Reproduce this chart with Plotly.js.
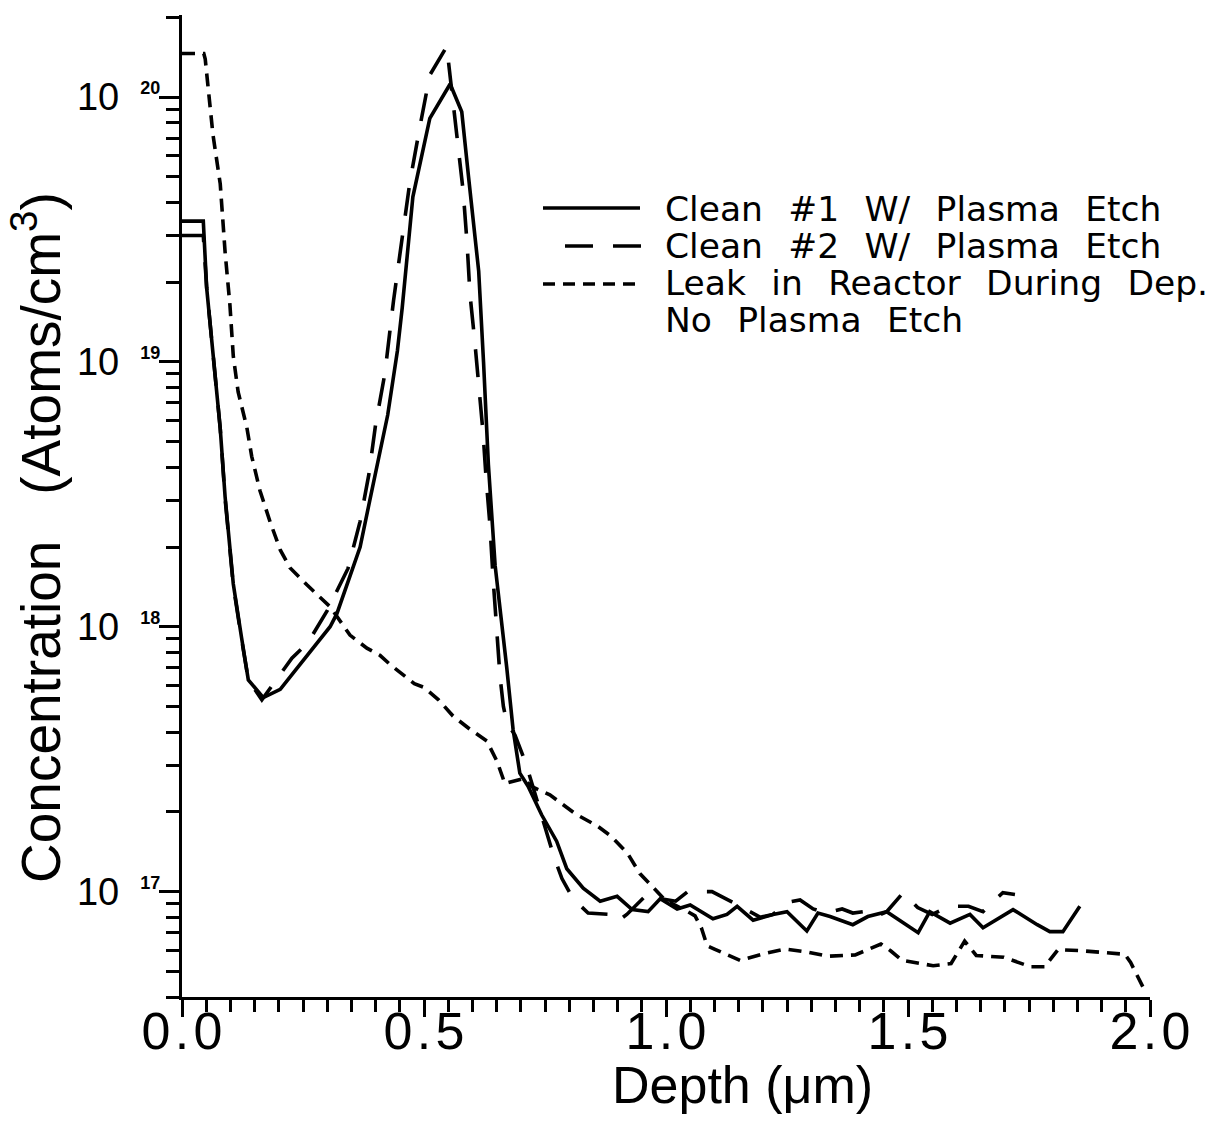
<!DOCTYPE html>
<html>
<head>
<meta charset="utf-8">
<script src="https://cdn.plot.ly/plotly-3.0.1.min.js"></script>
<style>html,body{margin:0;padding:0;background:#fff;}</style>
</head>
<body>
<div id="chart" style="width:1219px;height:1125px;"></div>
<script>
// Clean #1 W/ Plasma Etch (solid)
const depth1 = [0, 0.044, 0.051, 0.065, 0.079, 0.089, 0.106, 0.123, 0.137, 0.168, 0.203, 0.230, 0.271, 0.306, 0.320, 0.340, 0.368, 0.388, 0.405, 0.425, 0.445, 0.455, 0.477, 0.512, 0.554, 0.578, 0.592, 0.613, 0.623, 0.633, 0.647, 0.657, 0.671, 0.684, 0.698, 0.715, 0.743, 0.774, 0.795, 0.829, 0.864, 0.899, 0.930, 0.963, 0.988, 1.023, 1.050, 1.097, 1.126, 1.147, 1.180, 1.221, 1.250, 1.291, 1.314, 1.339, 1.386, 1.417, 1.456, 1.521, 1.545, 1.587, 1.628, 1.655, 1.717, 1.767, 1.793, 1.820, 1.855];
const conc1 = [3.4e19, 3.4e19, 1.9e19, 1.04e19, 5.6e18, 3.1e18, 1.45e18, 9.1e17, 6.3e17, 5.4e17, 5.8e17, 6.7e17, 8.3e17, 1.0e18, 1.12e18, 1.44e18, 2.0e18, 3.0e18, 4.2e18, 6.3e18, 1.1e19, 1.6e19, 4.2e19, 8.3e19, 1.12e20, 8.8e19, 5.0e19, 2.2e19, 1.0e19, 4.1e18, 1.7e18, 1.2e18, 7.0e17, 4.1e17, 2.8e17, 2.5e17, 1.95e17, 1.55e17, 1.22e17, 1.03e17, 9.2e16, 9.6e16, 8.55e16, 8.4e16, 9.4e16, 8.6e16, 8.9e16, 7.9e16, 8.2e16, 8.8e16, 7.8e16, 8.2e16, 8.4e16, 7.1e16, 8.3e16, 8.05e16, 7.5e16, 8.05e16, 8.4e16, 7.0e16, 8.4e16, 7.6e16, 8.2e16, 7.3e16, 8.55e16, 7.5e16, 7.06e16, 7.06e16, 8.8e16];

// Clean #2 W/ Plasma Etch (long dash)
const depth2 = [0, 0.044, 0.051, 0.065, 0.079, 0.089, 0.106, 0.123, 0.137, 0.165, 0.227, 0.260, 0.300, 0.343, 0.368, 0.386, 0.400, 0.419, 0.437, 0.455, 0.471, 0.492, 0.512, 0.547, 0.570, 0.581, 0.589, 0.595, 0.605, 0.614, 0.622, 0.628, 0.636, 0.643, 0.650, 0.657, 0.664, 0.672, 0.688, 0.709, 0.723, 0.745, 0.767, 0.785, 0.808, 0.839, 0.884, 0.899, 0.919, 0.957, 0.988, 1.020, 1.045, 1.095, 1.138, 1.167, 1.195, 1.221, 1.250, 1.277, 1.304, 1.330, 1.364, 1.386, 1.407, 1.430, 1.456, 1.490, 1.520, 1.550, 1.585, 1.625, 1.655, 1.676, 1.696, 1.721];
const conc2 = [3.0e19, 3.0e19, 1.9e19, 1.04e19, 5.6e18, 3.05e18, 1.43e18, 9.0e17, 6.3e17, 5.3e17, 7.6e17, 8.7e17, 1.15e18, 1.66e18, 2.5e18, 3.75e18, 5.8e18, 9.0e18, 1.7e19, 2.95e19, 4.8e19, 7.8e19, 1.21e20, 1.55e20, 6.9e19, 4.4e19, 2.8e19, 1.8e19, 1.19e19, 7.9e18, 5.4e18, 3.7e18, 2.45e18, 1.5e18, 9.5e17, 6.5e17, 5.0e17, 4.3e17, 3.9e17, 3.1e17, 2.56e17, 1.9e17, 1.38e17, 1.12e17, 9.4e16, 8.3e16, 8.2e16, 7.7e16, 8.2e16, 9.6e16, 9.4e16, 9.2e16, 1.0e17, 1.0e17, 9.1e16, 8.5e16, 8.0e16, 8.2e16, 9.1e16, 9.3e16, 8.6e16, 8.3e16, 8.6e16, 8.3e16, 8.4e16, 8.0e16, 8.4e16, 9.9e16, 8.7e16, 8.2e16, 8.8e16, 8.8e16, 8.4e16, 9.2e16, 9.9e16, 9.75e16];

// Leak in Reactor During Dep. No Plasma Etch (short dash)
const depth3 = [0, 0.045, 0.048, 0.064, 0.079, 0.089, 0.099, 0.106, 0.116, 0.134, 0.144, 0.161, 0.182, 0.203, 0.223, 0.258, 0.306, 0.347, 0.382, 0.409, 0.430, 0.460, 0.480, 0.500, 0.530, 0.560, 0.595, 0.630, 0.651, 0.667, 0.705, 0.723, 0.760, 0.812, 0.860, 0.888, 0.921, 0.946, 0.977, 0.998, 1.040, 1.060, 1.073, 1.085, 1.100, 1.153, 1.198, 1.246, 1.294, 1.335, 1.391, 1.444, 1.464, 1.488, 1.552, 1.589, 1.617, 1.641, 1.698, 1.754, 1.782, 1.810, 1.859, 1.948, 1.960, 1.990];
const conc3 = [1.46e20, 1.46e20, 1.39e20, 7.2e19, 4.7e19, 2.6e19, 1.64e19, 1.05e19, 7.7e18, 5.65e18, 4.4e18, 3.27e18, 2.49e18, 1.95e18, 1.67e18, 1.44e18, 1.19e18, 9.3e17, 8.3e17, 7.8e17, 7.2e17, 6.5e17, 6.1e17, 5.9e17, 5.3e17, 4.6e17, 4.1e17, 3.7e17, 3.1e17, 2.56e17, 2.67e17, 2.49e17, 2.32e17, 1.97e17, 1.76e17, 1.61e17, 1.39e17, 1.17e17, 1.02e17, 9.3e16, 8.5e16, 8.1e16, 7.3e16, 6.25e16, 6.07e16, 5.5e16, 5.8e16, 6.07e16, 5.9e16, 5.7e16, 5.77e16, 6.34e16, 5.98e16, 5.5e16, 5.25e16, 5.35e16, 6.5e16, 5.74e16, 5.65e16, 5.2e16, 5.2e16, 6.04e16, 5.98e16, 5.8e16, 5.4e16, 4.2e16];

const seriesNames = ["Clean #1 W/ Plasma Etch", "Clean #2 W/ Plasma Etch", "Leak in Reactor During Dep.", "No Plasma Etch"];
const xTickVals = [0, 0.5, 1.0, 1.5, 2.0];
const yExponents = [17, 18, 19, 20];
const xTitle = "Depth (\u03bcm)";
const yTitle = "Concentration\u00a0\u00a0 (Atoms/cm<sup>3</sup>)";

const xTickText = xTickVals.map(v => v.toFixed(1).split('').join('\u200a'));
const yTickVals = yExponents.map(e => Math.pow(10, e));
const yTickText = yExponents.map(e => '10\u00a0\u00a0<sup><span style="font-size:18px;font-weight:bold">' + e + '</span></sup>');
const yMinor = [];
for (let e = 16; e <= 20; e++) for (let m = 2; m <= 9; m++) yMinor.push(m * Math.pow(10, e));

const lw = 3.6;
const traces = [
  {x: depth1, y: conc1, mode: 'lines', line: {color: '#000', width: lw}, name: seriesNames[0]},
  {x: depth2, y: conc2, mode: 'lines', line: {color: '#000', width: lw, dash: '28px,20px'}, name: seriesNames[1]},
  {x: depth3, y: conc3, mode: 'lines', line: {color: '#000', width: lw, dash: '13px,8px'}, name: seriesNames[2]}
];

// legend geometry (paper coords)
const PL = 182, PR = 1150, PT = 15, PB = 997;
const px = v => (v - PL) / (PR - PL);
const py = v => (PB - v) / (PB - PT);
const legFont = {family: 'DejaVu Sans, sans-serif', size: 34.5, color: '#000'};
const sp = '\u00a0\u00a0\u200a';
const legRows = seriesNames.map(s => s.split(' ').join(sp));
const legY = [209, 246, 283, 320];

const annotations = legRows.map((t, i) => ({
  xref: 'paper', yref: 'paper', x: px(663), y: py(legY[i]), xanchor: 'left', yanchor: 'middle',
  text: t, showarrow: false, font: legFont
}));
annotations.push({
  xref: 'paper', yref: 'paper', x: px(742), y: py(1085), xanchor: 'center', yanchor: 'middle',
  text: xTitle, showarrow: false, font: {family: 'Liberation Sans, Arial, sans-serif', size: 52, color: '#000'}
});
annotations.push({
  xref: 'paper', yref: 'paper', x: px(37), y: py(538), xanchor: 'center', yanchor: 'middle', textangle: -90,
  text: yTitle, showarrow: false, font: {family: 'Liberation Sans, Arial, sans-serif', size: 55, color: '#000'}
});

const shapes = [
  {type: 'line', xref: 'paper', yref: 'paper', x0: px(543), x1: px(640), y0: py(208), y1: py(208), line: {color: '#000', width: lw}},
  {type: 'line', xref: 'paper', yref: 'paper', x0: px(565), x1: px(641), y0: py(246), y1: py(246), line: {color: '#000', width: lw, dash: '28px,20px'}},
  {type: 'line', xref: 'paper', yref: 'paper', x0: px(543), x1: px(640), y0: py(284), y1: py(284), line: {color: '#000', width: lw, dash: '12px,8px'}}
];

const layout = {
  width: 1219, height: 1125,
  margin: {l: PL, r: 1219 - PR, t: PT, b: 1125 - PB, pad: 0},
  paper_bgcolor: '#fff', plot_bgcolor: '#fff',
  showlegend: false,
  xaxis: {
    range: [0, 2], tickmode: 'array', tickvals: xTickVals, ticktext: xTickText,
    ticks: 'outside', ticklen: 17, tickwidth: 3, tickcolor: '#000', ticklabelstandoff: -30,
    showline: true, linewidth: 3, linecolor: '#000', showgrid: false, zeroline: false,
    tickfont: {family: 'Liberation Sans, Arial, sans-serif', size: 52, color: '#000'},
    minor: {dtick: 0.05, ticks: 'outside', ticklen: 12, tickwidth: 3, tickcolor: '#000', showgrid: false}
  },
  yaxis: {
    type: 'log', range: [Math.log10(4e16), Math.log10(2.04e20)],
    tickmode: 'array', tickvals: yTickVals, ticktext: yTickText,
    ticks: 'outside', ticklen: 20, tickwidth: 3, tickcolor: '#000', ticklabelstandoff: -9,
    showline: true, linewidth: 3, linecolor: '#000', showgrid: false, zeroline: false,
    tickfont: {family: 'Liberation Sans Narrow, Liberation Sans, Arial, sans-serif', size: 38, color: '#000'},
    minor: {tickmode: 'array', tickvals: yMinor, ticks: 'outside', ticklen: 13, tickwidth: 3, tickcolor: '#000', showgrid: false}
  },
  annotations: annotations,
  shapes: shapes
};

Plotly.newPlot('chart', traces, layout, {displayModeBar: false, staticPlot: true});
</script>
</body>
</html>
